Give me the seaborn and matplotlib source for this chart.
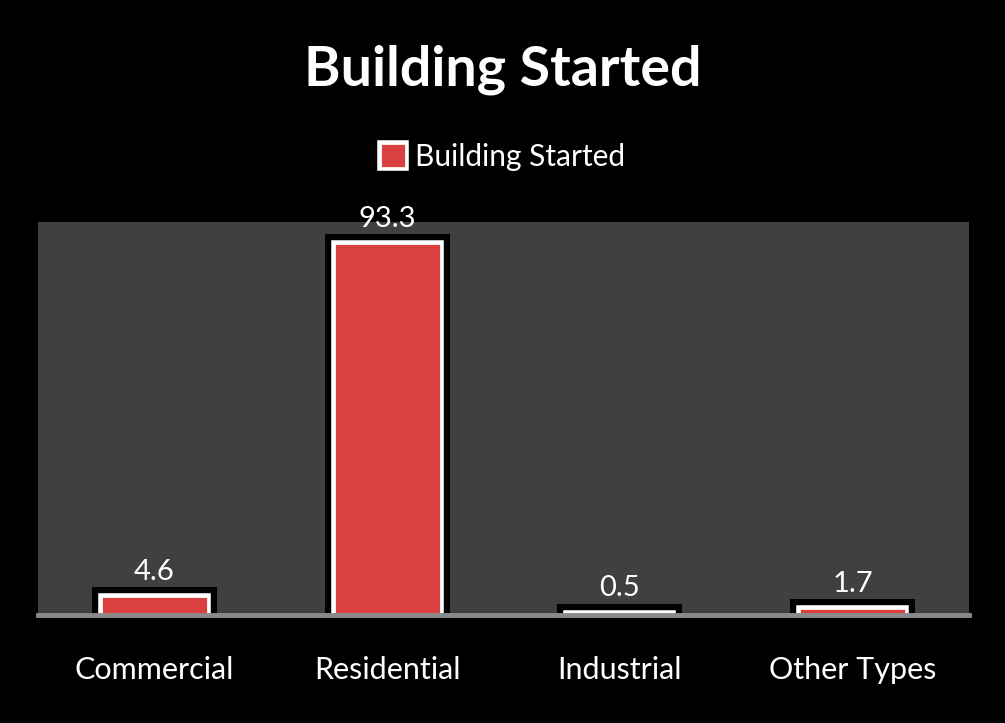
import matplotlib
matplotlib.use("Agg")
import matplotlib.pyplot as plt
import matplotlib.patheffects as pe
import seaborn as sns

categories = ["Commercial", "Residential", "Industrial", "Other Types"]
values = [4.6, 93.3, 0.5, 1.7]
series_name = "Building Started"

sns.set_style("dark")
plt.rcParams['font.family'] = ['Lato', 'DejaVu Sans']

fig = plt.figure(figsize=(10.05, 7.23), dpi=100, facecolor="black")
ax = fig.add_axes([0.038, 0.15, 0.926, 0.543])
ax.set_facecolor("#404040")

sns.barplot(x=categories, y=values, color="#d9403f", width=0.46,
            edgecolor="white", linewidth=2.0, saturation=1,
            label=series_name, ax=ax)

for p in ax.patches:
    p.set_path_effects([pe.Stroke(linewidth=13, foreground="black"),
                        pe.Stroke(linewidth=4, foreground="white"),
                        pe.Normal()])

ax.bar_label(ax.containers[0], fmt="%.1f", padding=8, color="white", fontsize=21)

ax.set_ylim(0, 98.6)
ax.set_xlim(-0.5, 3.5)
ax.set_yticks([])
ax.set_xlabel("")
ax.set_ylabel("")
ax.grid(False)
for s in ["top", "right", "left"]:
    ax.spines[s].set_visible(False)
ax.spines["bottom"].set_visible(True)
ax.spines["bottom"].set_color("#8a8a8a")
ax.spines["bottom"].set_linewidth(3.5)
ax.tick_params(axis="x", colors="white", labelsize=22, length=0, pad=30)

ax.legend(loc="center", bbox_to_anchor=(0.5, 0.783), bbox_transform=fig.transFigure,
          frameon=False, fontsize=21.5, labelcolor="white",
          handlelength=0.9, handleheight=0.9, handletextpad=0.3)

fig.suptitle("Building Started", color="white", fontsize=40, fontweight="bold", y=0.938)

fig.savefig("out.png", dpi=100, facecolor="black")
